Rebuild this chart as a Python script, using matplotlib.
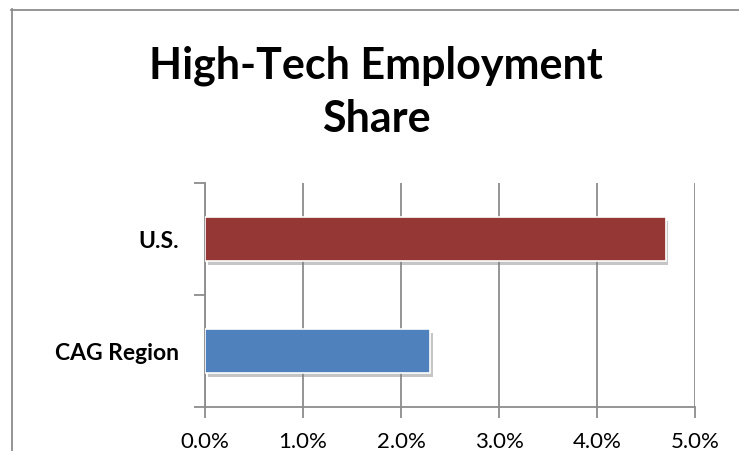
import matplotlib.pyplot as plt
from matplotlib import patheffects as pe
from matplotlib.lines import Line2D

categories = ['CAG Region', 'U.S.']
shares = [2.3, 4.7]          # percent of employment
bar_colors = ['#4F81BD', '#953735']
xticks = [0, 1, 2, 3, 4, 5]

plt.rcParams['font.family'] = ['Lato', 'DejaVu Sans']

fig = plt.figure(figsize=(7.39, 4.51), dpi=100)
W, H = 739, 451

# clipped caption above the chart box (only descenders show)
fig.text(120 / W, 1 + 5.5 / H, 'Regional High-Tech Employment Share',
         color='#4F81BD', fontsize=26, fontweight='bold', va='baseline', ha='left')

# chart frame
grey = '#8C8C8C'
fig.add_artist(Line2D([11.5 / W, 11.5 / W], [0, 1 - 9 / H], color=grey, lw=1.3,
                      transform=fig.transFigure))
fig.add_artist(Line2D([11 / W, 1], [1 - 9.5 / H, 1 - 9.5 / H], color=grey, lw=1.3,
                      transform=fig.transFigure))

# title
fig.text(376 / W, 1 - 79 / H, 'High-Tech Employment', ha='center', va='baseline',
         fontsize=31, fontweight='bold')
fig.text(376 / W, 1 - 132 / H, 'Share', ha='center', va='baseline',
         fontsize=31, fontweight='bold')

ax = fig.add_axes([205 / W, 1 - 407 / H, 490 / W, 224 / H])
ypos = list(range(len(categories)))
bars = ax.barh(ypos, shares, height=0.39, color=bar_colors, edgecolor='white',
               linewidth=1.2, zorder=3)
for b in bars:
    b.set_path_effects([pe.SimplePatchShadow(offset=(2, -3), shadow_rgbFace='#808080',
                                             alpha=0.45), pe.Normal()])

ax.set_xlim(0, 5)
ax.set_ylim(-0.5, 1.5)
ax.set_xticks(xticks)
ax.set_xticklabels([f'{v:.1f}%' for v in xticks], fontsize=16)
ax.set_yticks([-0.5, 0.5, 1.5])
ax.set_yticklabels([])
ax.set_yticks(ypos, minor=True)
ax.set_yticklabels(categories, minor=True, fontsize=16.5, fontweight='bold')
ax.tick_params(axis='y', which='minor', length=0, pad=19)
ax.tick_params(axis='y', which='major', length=8, width=1.3, color=grey)
ax.tick_params(axis='x', length=8, width=1.3, color=grey, pad=10)

ax.grid(axis='x', color=grey, linewidth=1.3, zorder=0)
for s in ['top', 'right']:
    ax.spines[s].set_visible(False)
for s in ['left', 'bottom']:
    ax.spines[s].set_color(grey)
    ax.spines[s].set_linewidth(1.3)

fig.savefig('out.png', dpi=100)
